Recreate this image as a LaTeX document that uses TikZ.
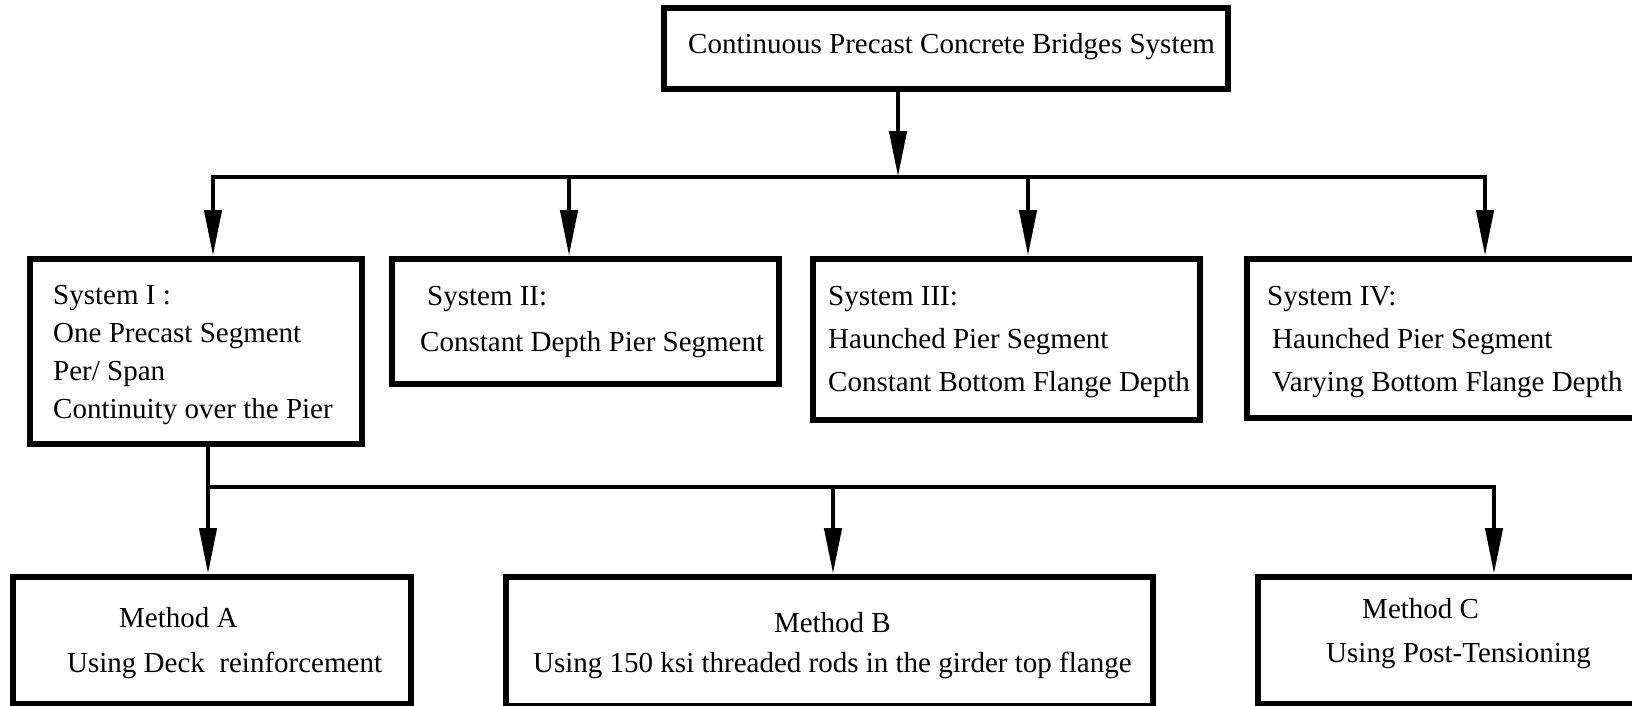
\documentclass[tikz,border=0pt]{standalone}
\usepackage{fontspec}
\setmainfont{Liberation Serif}
\usetikzlibrary{arrows.meta, positioning}
\newcommand{\boxfont}[1]{\fontsize{29}{#1}\selectfont}
\tikzset{
  frame/.style={draw, line width=5.5, anchor=north west, inner sep=0},
  txt/.style={align=left, inner sep=0, anchor=base west, font=\boxfont{38}},
  link/.style={draw, line width=4.5, line join=miter},
  flow/.style={link, -{Triangle[length=46, width=17]}}
}
\begin{document}
\begin{tikzpicture}[x=1pt, y=-1pt]
    \useasboundingbox (0,0) rectangle (1632,705);
    \clip (0,0) rectangle (1632,705);
    \node[frame, minimum width=564, minimum height=81] (top) at (661,5) {};
    \node[frame, minimum width=332, minimum height=185] (sys1) at (27,256) {};
    \node[frame, minimum width=387, minimum height=125] (sys2) at (389,256) {};
    \node[frame, minimum width=387, minimum height=161] (sys3) at (810,256) {};
    \node[frame, minimum width=420, minimum height=159] (sys4) at (1244,256) {};
    \node[frame, minimum width=398, minimum height=127] (metA) at (10,574) {};
    \node[frame, minimum width=647, minimum height=129] (metB) at (503,574) {};
    \node[frame, minimum width=377, minimum height=127] (metC) at (1255,574) {};
    \node[txt] (toptxt) at (688,53) {Continuous Precast Concrete Bridges System};
    \node[txt, font=\boxfont{37.7}] (sys1txt) at (53,418) {System I :\\One Precast Segment\\Per/ Span\\Continuity over the Pier};
    \node[txt, font=\boxfont{46}] (sys2txt) at (420,351) {\hspace*{7pt}System II:\\Constant Depth Pier Segment};
    \node[txt, font=\boxfont{43}] (sys3txt) at (828,391) {System III:\\Haunched Pier Segment\\Constant Bottom Flange Depth};
    \node[txt, font=\boxfont{43}] (sys4txt) at (1267,391) {System IV:\\\hspace*{5pt}Haunched Pier Segment\\\hspace*{5pt}Varying Bottom Flange Depth};
    \node[txt, font=\boxfont{45}] (metAtxt) at (67,672) {\hspace*{52pt}Method A\\Using Deck\ \ reinforcement};
    \node[txt, align=center, font=\boxfont{40}] (metBtxt) at (533,672) {Method B\\Using 150 ksi threaded rods in the girder top flange};
    \node[txt, font=\boxfont{44}] (metCtxt) at (1326,662) {\hspace*{36pt}Method C\\Using Post-Tensioning};
    \coordinate (topout) at (898,177);
    \coordinate (busL) at (213,177);
    \coordinate (busR) at (1485,177);
    \draw[flow] (top.south -| topout) -- (topout);
    \draw[flow] (topout) -- (busL) -- (busL |- sys1.north);
    \draw[flow] (topout) -- (busR) -- (busR |- sys4.north);
    \foreach \xx/\target in {569/sys2, 1028/sys3} {
      \coordinate (drop) at (\xx,177);
      \draw[flow] (drop) -- (drop |- \target.north);
    }
    \coordinate (lbusL) at (208,487);
    \coordinate (lbusM) at (833,487);
    \coordinate (lbusR) at (1494,487);
    \draw[flow] (sys1.south -| lbusL) -- (lbusL |- metA.north);
    \draw[flow] (lbusL) -- (lbusR) -- (lbusR |- metC.north);
    \draw[flow] (lbusM) -- (lbusM |- metB.north);
\end{tikzpicture}
\end{document}
